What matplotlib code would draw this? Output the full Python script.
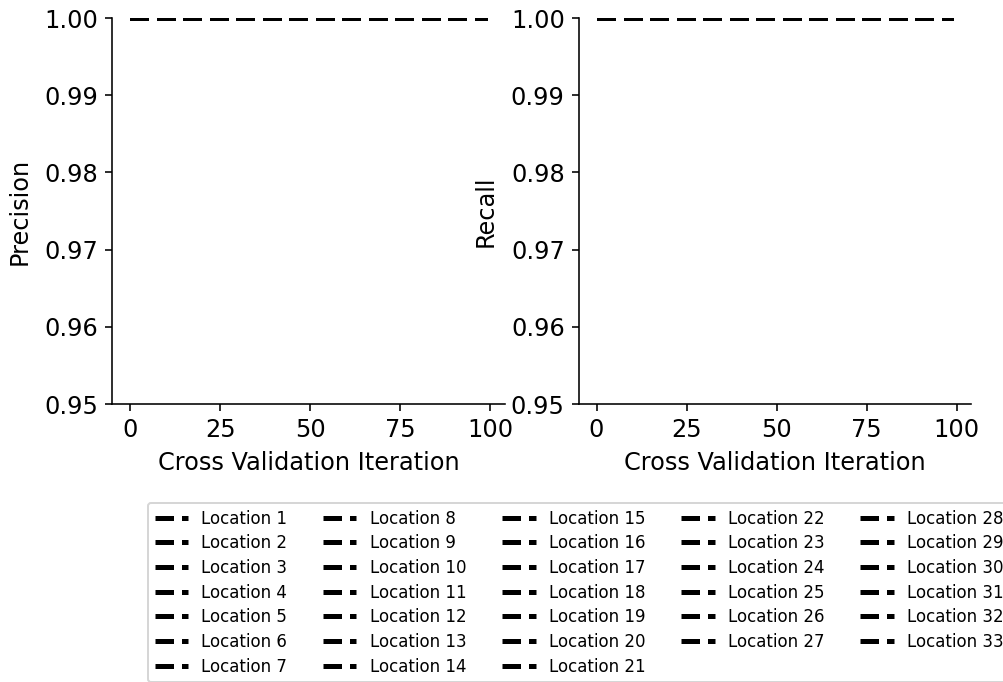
import matplotlib
matplotlib.use("Agg")
import matplotlib.pyplot as plt

# cross validation iterations (x axis)
iterations = list(range(100))

# one score per location; every location sits at 1.00 for all iterations
locations = [f"Location {i}" for i in range(1, 34)]
precision = [1.00] * len(locations)
recall = [1.00] * len(locations)

ylim = (0.95, 1.00)
yticks = [0.95, 0.96, 0.97, 0.98, 0.99, 1.00]
xticks = [0, 25, 50, 75, 100]

DPI = 144
fig = plt.figure(figsize=(1003 / DPI, 682 / DPI), dpi=DPI)
ax1 = fig.add_axes([0.112, 0.4076, 0.391, 0.566])
ax2 = fig.add_axes([0.577, 0.4076, 0.391, 0.566])

for ax, scores, ylab in [(ax1, precision, "Precision"), (ax2, recall, "Recall")]:
    for loc, val in zip(locations, scores):
        ax.plot(iterations, [val] * len(iterations), ls="--", color="black",
                lw=2.5, label=loc)
    ax.set_ylim(*ylim)
    ax.set_yticks(yticks)
    ax.set_yticklabels([f"{t:.2f}" for t in yticks])
    ax.set_xticks(xticks)
    ax.tick_params(labelsize=12)
    ax.set_xlabel("Cross Validation Iteration", fontsize=12, labelpad=4.5)
    ax.set_ylabel(ylab, fontsize=12, labelpad=6.5)
    ax.spines["top"].set_visible(False)
    ax.spines["right"].set_visible(False)

handles, labels = ax1.get_legend_handles_labels()
fig.legend(handles, labels, loc="upper left", bbox_to_anchor=(0.1476, 0.2625),
           ncol=5, fontsize=8.33, borderaxespad=0, labelspacing=0.4,
           columnspacing=2.15)

fig.savefig("out.png", dpi=DPI)
